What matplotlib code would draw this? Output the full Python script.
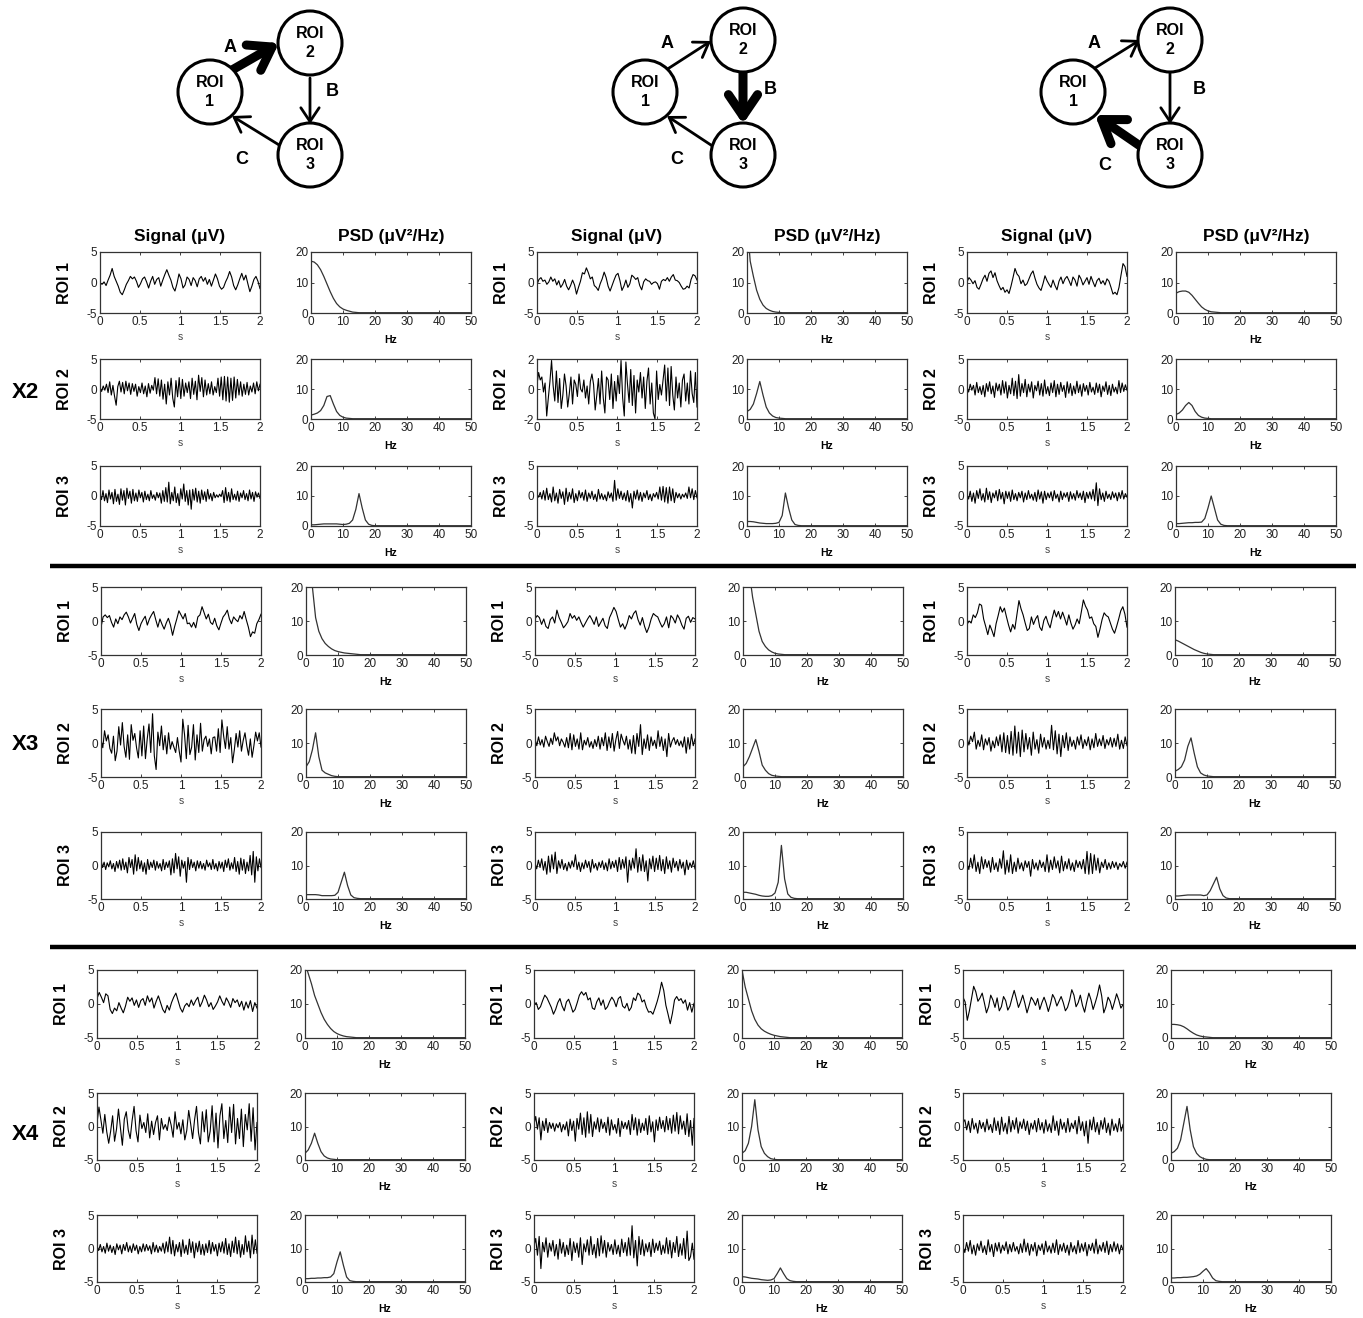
import numpy as np
import matplotlib
matplotlib.use("Agg")
import matplotlib.pyplot as plt
from matplotlib.patches import Circle, FancyArrowPatch

plt.rcParams["font.family"] = ["Liberation Sans", "DejaVu Sans"]
plt.rcParams["axes.unicode_minus"] = False

# ---------------------------------------------------------------------------
# Data: simulated EEG traces (uV, 2 s) and their PSDs (uV^2/Hz) for three
# coupling strengths (X2, X3, X4) and three networks (strong A, B or C link).
# ---------------------------------------------------------------------------
blocks = ["X2", "X3", "X4"]
rois = ["ROI 1", "ROI 2", "ROI 3"]
psd_hz = [0, 1, 2, 3, 4, 5, 6, 7, 8, 9, 10, 11, 12, 13, 14, 15, 16, 17, 18, 19, 20, 50]

# --- X2 --------------------------------------------------------------------
x2a_roi1 = [0, -0.3, 0.1, -0.5, 0.4, 1.2, 2.3, 1.0, 0.2, -0.6, -1.6, -2.0, -1.2, -0.3, 0.3, 1.0, 0.6, 0.9, 0.2, -0.8,
            -0.2, 0.6, 0.9, 0.1, -0.9, 0.2, 1.0, -0.3, 0.5, 0.8, -0.6, 0.4, 1.3, 2.1, 1.2, 0.4, -0.8, -1.4, -0.2, 1.4,
            0.6, -0.9, -0.4, 0.9, 0.5, -0.5, 0.8, 0.3, -0.7, 0.6, 1.0, 0.2, 0.8, -0.3, 0.5, -0.6, 0.4, 1.4, 0.6, -0.6,
            -1.1, -0.8, 0.1, 0.8, 1.8, 0.9, -0.5, -1.2, -0.4, 0.6, 1.5, 0.4, 1.2, -0.2, -1.5, -0.6, 0.5, 1.0, 0.2, -1.0]
x2a_roi2 = [0.3, -0.4, 0.5, -0.2, 0.8, -0.6, 1.2, -1.0, 0.6, -1.2, -2.7, 0.4, 1.3, -0.5, 1.1, -0.8, 1.3, -0.3, 1.0, -0.9,
            0.9, -0.4, 0.8, -1.2, 0.4, -0.6, 1.0, -0.8, 0.5, -1.3, 0.9, -0.7, 0.6, -0.2, 1.9, -0.8, 1.7, -1.2, 1.5, -1.7,
            0.8, -2.5, 1.2, -1.0, 1.8, -1.5, -3.0, 1.4, -1.3, 1.9, -1.6, 1.6, -1.2, 1.0, -0.6, 1.2, -1.6, 1.8, -0.9, 1.3,
            -1.8, 2.3, -0.4, 1.9, -1.3, 1.5, -1.0, 0.9, -0.8, 1.2, -1.0, 0.4, -0.6, 1.8, -1.2, 2.0, -1.8, 2.1, -2.0, 2.0,
            -2.2, 1.8, -1.9, 2.0, -1.5, 1.6, -1.0, 1.2, -1.2, 0.8, -0.9, 1.1, -1.0, 0.5, -0.5, 1.0, -0.8, 1.2, -0.3, 0.8]
x2a_roi3 = [0.2, -0.6, 0.9, -0.8, 0.4, -1.1, 1.0, -0.5, 0.6, -1.3, 1.1, -0.9, 0.3, -1.4, 1.2, -0.7, 0.9, -1.5, 1.3, -0.4,
            0.8, -1.2, 1.1, -0.8, 0.5, -0.9, 1.0, -0.3, 0.6, -1.0, 0.8, -0.6, 0.3, -0.8, 0.9, -0.4, 0.2, -0.7, 0.6, -0.3,
            0.5, -1.2, 0.9, -0.9, 1.4, -1.0, 2.3, -1.3, 0.6, -0.8, 1.5, -1.1, 0.4, -1.6, 1.2, -0.5, 2.0, -0.9, 0.9, -1.5,
            1.0, -2.2, 1.1, -0.7, 1.3, -1.0, 0.8, -1.2, 1.0, -0.6, 0.7, -0.9, 1.1, -0.5, 0.4, -0.8, 0.6, -0.3, 0.2, -0.2,
            0.3, -0.1, 0.9, -1.1, 1.4, -0.8, 0.6, -1.0, 1.2, -0.6, 0.3, -0.7, 0.8, -0.9, 0.5, -0.3, 0.9, -0.6, 0.4, -0.8,
            1.0, -0.5, 0.6, -0.9, 0.7, -0.2, 0.5, -0.4]
x2b_roi1 = [-0.3, 0.5, 0.8, 0.2, 0.4, -0.3, 0.1, 0.9, 0.2, 0.6, -0.4, 0.3, -0.8, -0.3, 0.5, -0.6, -1.2, -0.5, 0.4, -0.4,
            -1.9, -0.8, 0.2, 1.6, 1.4, 2.4, 1.6, 0.6, 0.9, -0.5, -0.8, -1.3, -0.2, 0.6, 1.7, 0.8, -0.6, -1.4, -0.5, 0.4,
            1.2, 1.5, 0.3, -1.3, -0.6, 0.4, -0.8, -0.2, 1.2, 0.9, 0.5, 0.8, -0.5, -1.2, 0.1, 0.6, 0.3, 0.2, -0.3, 0.0,
            0.1, -0.2, -1.1, 0.2, 0.5, 0.3, 0.8, 0.2, 0.9, 1.3, 0.4, 0.3, 0.0, -0.6, -1.1, -1.0, -0.6, -0.9, 0.5, 1.3,
            1.1, 0.4]
x2b_roi2 = [0.3, 1.1, 0.6, 0.8, -0.2, 0.4, -1.8, -0.6, 0.5, 1.9, 0.2, -0.8, 1.2, -0.9, 0.7, -1.3, -0.4, 1.0, 0.2, -1.2,
            -0.3, 0.8, -1.0, 0.6, 0.3, -0.5, 1.0, 0.0, -0.2, 0.6, -0.6, 0.2, -1.0, 0.5, 1.0, 0.3, -1.4, -0.4, 0.7, -1.0,
            1.2, -0.6, -1.6, 0.8, 0.6, -0.7, 1.0, -1.3, 0.5, -0.8, 0.9, -0.3, 1.9, -0.6, -1.8, 1.8, 0.3, -0.9, 1.3, -1.1,
            0.9, -1.6, 0.6, -0.2, 1.1, -0.6, 0.8, -1.3, 0.5, 1.4, -1.0, 0.4, -1.6, -2.0, 1.2, -0.7, 0.3, -0.4, 0.6, 1.6,
            -0.8, 1.4, -1.1, 1.5, -0.4, -1.4, 0.8, -0.6, 0.4, -1.2, 0.6, 1.0, -0.8, 0.4, -1.0, 1.2, -0.3, -0.9, 1.1, -1.2]
x2b_roi3 = [0.3, -0.2, 0.6, -0.5, 0.9, -0.7, 1.3, -0.6, 0.4, -1.0, 1.5, -0.8, 0.5, -1.2, 1.1, -0.4, 0.7, -1.4, 1.3, -0.9,
            0.6, -0.5, 1.2, -1.1, 0.4, -0.8, 0.9, -0.3, 0.6, -0.7, 1.0, -0.9, 0.5, -0.4, 0.8, -0.6, 0.3, -0.9, 1.1, -0.5,
            0.4, -0.6, 0.2, -0.8, 0.7, -0.3, 0.5, -0.9, 2.6, -0.7, 1.2, -0.4, 0.8, -0.6, 0.5, -0.8, 0.9, -1.0, 0.4, -2.0,
            0.8, -0.5, 1.0, -0.7, 0.6, -0.9, 0.5, -0.3, 0.9, -0.6, 0.3, -0.8, 0.4, -0.2, 0.6, -0.5, 1.5, -0.7, 1.6, -1.0,
            1.4, -1.2, 1.5, -0.8, 1.2, -1.1, 0.6, -0.3, 0.4, -0.5, 0.3, -0.2, 0.5, -0.4, 1.5, -0.3, 1.2, -0.6, 0.9, -0.3]
x2c_roi1 = [0.1, 0.8, 0.4, -0.2, 0.3, -0.8, -1.1, -0.3, 0.6, 1.2, 0.2, 1.5, 1.9, 0.8, 1.6, 0.3, -0.5, -1.2, -0.8, -1.6,
            -1.2, -1.8, -0.6, 0.8, 2.3, 1.4, 1.0, -0.2, 0.4, -0.5, -0.2, 0.6, 1.4, 1.9, 0.7, -0.3, -0.9, -1.3, -0.2, 1.1,
            0.3, -0.3, -0.8, 0.4, -0.5, -1.2, 0.2, 0.9, -0.2, 0.6, 1.0, 0.3, -0.5, 0.9, 0.4, -0.6, 1.2, 0.6, -0.4, 0.2,
            0.8, -0.3, 1.0, 0.1, -0.7, 0.3, 0.7, -0.2, 0.3, -0.4, 0.6, 0.2, -0.8, -1.9, -1.6, -2.0, -0.8, 1.2, 3.1, 2.6,
            1.0]
x2c_roi2 = [0.3, -0.5, 0.8, -0.2, 0.6, -1.0, 1.1, -0.6, 0.4, -0.9, 0.6, -1.3, 0.9, -0.4, 1.2, -0.8, 0.5, -1.4, 1.0, -0.3,
            0.8, -1.0, 1.4, -0.7, 1.2, -1.5, 0.6, -0.8, 1.8, -1.1, 1.3, -1.6, 2.4, -1.2, 0.9, -0.6, 1.6, -1.3, 0.8, -0.5,
            1.2, -1.5, 0.6, -0.3, 1.3, -1.0, 0.9, -1.2, 1.5, -0.8, 0.4, -1.1, 1.0, -0.6, 1.4, -1.3, 0.8, -0.9, 1.1, -0.4,
            0.6, -1.4, 1.2, -0.7, 0.9, -1.1, 0.5, -0.8, 1.3, -0.6, 0.7, -1.2, 0.9, -0.4, 0.6, -1.0, 1.1, -0.5, 0.3, -0.9,
            1.0, -0.6, 0.8, -1.3, 0.5, -0.4, 1.2, -0.9, 0.6, -1.1, 0.8, -0.5, 0.3, -0.8, 1.4, -0.6, 1.0, -0.4, 0.7, -0.2]
x2c_roi3 = [0.2, -0.5, 0.8, -0.9, 0.5, -1.2, 0.9, -0.4, 1.2, -0.7, 0.4, -1.0, 1.3, -0.6, 0.7, -1.1, 0.5, -0.3, 0.9, -0.8,
            1.1, -0.5, 0.6, -1.3, 0.8, -0.4, 0.7, -0.9, 1.0, -0.6, 0.4, -0.8, 0.6, -0.3, 0.8, -1.0, 0.5, -0.6, 0.9, -0.4,
            0.3, -0.7, 0.6, -0.9, 1.0, -0.5, 0.7, -1.2, 0.8, -0.6, 0.5, -0.3, 0.7, -0.8, 0.9, -0.4, 0.3, -1.0, 0.8, -0.6,
            0.5, -0.2, 0.6, -0.9, 0.7, -0.5, 0.4, -0.7, 0.9, -0.3, 0.5, -0.6, 0.8, -1.1, 0.6, -0.4, 0.7, -0.5, 1.1, -0.8,
            2.2, -1.6, 1.2, -0.6, 0.5, -0.9, 0.8, -0.4, 0.3, -0.6, 0.7, -0.3, 0.5, -0.8, 0.6, -0.4, 0.9, -0.5, 0.4, -0.2]

x2a_psd1 = [17, 16.7, 15.8, 14.2, 12, 9.5, 7, 4.8, 3.1, 2, 1.3, 0.9, 0.6, 0.3, 0.2, 0.1, 0.1, 0.1, 0.1, 0.1, 0.1, 0.1]
x2a_psd2 = [1.3, 1.6, 2.0, 2.8, 4.5, 7.5, 7.8, 5, 2.5, 1.2, 0.6, 0.3, 0.2, 0.1, 0.1, 0.1, 0.1, 0.1, 0.1, 0.1, 0.1, 0.1]
x2a_psd3 = [0.4, 0.4, 0.5, 0.6, 0.7, 0.7, 0.7, 0.7, 0.7, 0.6, 0.5, 0.6, 0.9, 2, 5.5, 10.8, 6, 2, 0.6, 0.2, 0.1, 0.1]
x2b_psd1 = [30, 17, 12, 7.5, 4.5, 2.6, 1.5, 0.9, 0.5, 0.3, 0.2, 0.1, 0.1, 0.1, 0.1, 0.1, 0.1, 0.1, 0.1, 0.1, 0.1, 0.1]
x2b_psd2 = [2.5, 3.2, 5, 8.5, 12.5, 8, 4, 2, 1, 0.5, 0.3, 0.2, 0.1, 0.1, 0.1, 0.1, 0.1, 0.1, 0.1, 0.1, 0.1, 0.1]
x2b_psd3 = [1.5, 1.5, 1.4, 1.2, 1, 0.9, 0.8, 0.8, 0.8, 0.9, 1.2, 3.5, 11, 6, 2, 0.5, 0.2, 0.1, 0.1, 0.1, 0.1, 0.1]
x2c_psd1 = [6.5, 7, 7.2, 7.2, 6.8, 5.8, 4.5, 3.2, 2, 1.2, 0.7, 0.4, 0.3, 0.2, 0.1, 0.1, 0.1, 0.1, 0.1, 0.1, 0.1, 0.1]
x2c_psd2 = [1.5, 2, 3, 4.5, 5.5, 4.5, 2.5, 1.2, 0.6, 0.3, 0.2, 0.1, 0.1, 0.1, 0.1, 0.1, 0.1, 0.1, 0.1, 0.1, 0.1, 0.1]
x2c_psd3 = [0.8, 0.8, 0.9, 1, 1.1, 1.1, 1.2, 1.2, 1.3, 2.5, 6, 10, 6, 2, 0.6, 0.2, 0.1, 0.1, 0.1, 0.1, 0.1, 0.1]

# --- X3 --------------------------------------------------------------------
x3a_roi1 = [-0.9, 0.6, 0.9, 0.5, 0.8, -0.2, -0.9, 0.3, -0.4, 0.6, 0.2, 0.9, 1.3, 0.6, -0.3, 0.4, 1.1, -0.5, -1.4, -0.4,
            0.2, 0.7, -0.6, 0.3, 0.9, 1.4, 0.2, -0.9, 0.3, -0.5, -1.2, -0.3, 0.4, -0.6, -2.1, -0.8, 0.3, 1.5, 0.9, 0.3,
            1.1, -0.4, -0.3, -0.9, -0.2, -1.0, 0.6, 0.9, 2.1, 1.2, 0.3, 1.0, -0.2, -0.5, 0.4, -0.7, -1.3, -0.3, 0.6, 1.0,
            1.6, 0.3, -0.4, 0.6, 0.2, -0.1, 0.8, 0.3, 1.4, 0.2, -0.9, -2.3, -1.6, -1.8, -0.4, 0.2, 1.0]
x3a_roi2 = [0.5, -0.7, 1.8, 0.3, 1.2, -0.8, -1.5, 1.0, -2.6, -1.2, 2.4, -0.3, 3.0, -0.5, -2.1, 1.2, -2.4, 2.7, 0.4, 1.4,
            -0.7, -2.2, 1.8, -1.9, 2.5, -2.3, 0.6, 2.8, -1.4, 4.3, -1.9, -3.9, 1.6, -0.4, 2.5, -1.0, 1.1, -1.6, 1.5, -0.9,
            0.2, -0.6, -1.4, 0.8, -1.2, -2.8, 3.5, 1.2, -2.3, 2.6, -1.7, -0.6, 2.7, -2.5, 1.2, -1.4, 2.9, -1.2, 0.5, 1.0,
            -0.5, 0.6, -1.6, 0.8, 0.9, -1.2, 2.1, -1.4, 3.4, 1.0, -0.8, 2.4, -0.9, 0.8, -2.9, -1.0, 1.4, -0.6, 1.8, -1.2,
            0.4, 1.5, -0.4, -1.8, 0.6, -2.1, -0.4, 1.6, 0.3, 1.5, -0.6]
x3a_roi3 = [0.8, -0.3, 0.5, -0.6, 0.4, -0.2, 0.7, -0.5, 0.3, -0.9, 0.6, -0.4, 0.8, -0.7, 1.0, -0.6, 0.5, -1.1, 1.2, -0.3,
            0.9, -1.3, 1.6, -0.8, 1.2, -0.5, 0.7, -0.9, 0.4, -1.3, 0.9, -0.6, 0.5, -0.3, 0.8, -0.7, 0.6, -0.4, 0.3, -0.8,
            0.9, -0.6, 0.5, -0.3, 0.7, -1.4, 1.0, -1.1, 1.8, -0.5, 1.3, -1.6, 0.8, -0.4, 0.6, -2.5, 1.2, -0.6, 0.9, -0.3,
            0.5, -0.8, 0.7, -0.4, 0.6, -0.5, 0.3, -0.7, 0.8, -0.2, 0.4, -0.6, 0.9, -0.5, 0.3, -0.8, 0.6, -0.4, 0.5, -0.9,
            0.8, -0.3, 1.0, -0.7, 0.4, -0.5, 1.2, -0.9, 0.6, -1.3, 1.1, -0.7, 0.9, -1.2, 0.5, -0.8, 1.5, -1.4, 2.1, -2.5,
            1.3, -0.8, 1.0, -0.3]
x3b_roi1 = [0.3, 0.8, 0.5, -0.5, 0.3, -0.8, -1.1, 0.2, 0.6, -0.3, 1.6, 0.5, -0.2, -1.0, -0.6, -0.1, 1.1, 0.4, 0.8, 0.1,
            0.6, -0.2, -0.9, -0.3, 0.3, 0.8, 0.2, -0.5, 0.6, -0.8, -0.2, 0.4, -0.7, -1.1, 0.5, 1.2, 2.0, 1.4, 0.2, -0.9,
            -0.4, -1.2, -0.4, 0.8, 0.3, 1.1, 1.5, 0.2, -0.6, 0.5, -0.8, -1.7, -0.9, 0.3, 1.1, 0.8, 0.6, -0.2, -0.9, -0.4,
            0.6, -1.0, 0.8, 0.4, -0.3, 0.9, 0.3, -0.6, -1.2, 0.4, 0.7, -0.2, 0.5, 0.3]
x3b_roi2 = [0.6, -0.4, 0.9, -0.3, 0.5, -0.6, 1.0, 0.2, -0.5, 0.7, -0.2, 1.5, 0.3, 0.9, -0.4, 0.6, 0.1, -0.6, 0.8, -0.7,
            1.4, -1.0, 1.2, -0.5, 0.6, -0.9, 1.5, -1.0, 0.4, -0.3, 0.8, -0.6, 0.2, -0.8, 0.5, -0.5, 1.0, -0.9, 0.8, -0.4,
            1.5, -1.1, 0.9, -0.7, 1.4, -1.2, 0.5, 1.7, -0.8, 1.3, 0.4, -0.3, 1.0, -0.9, 0.5, -1.5, 1.1, -1.6, 1.4, -0.5,
            2.7, -1.7, 0.6, -0.8, 1.2, -1.1, 0.9, -0.4, 0.4, -0.8, 1.8, -0.5, 0.9, -1.1, 0.6, -2.0, 1.4, -0.6, 0.3, 0.8,
            -0.2, 0.5, -0.4, 0.3, -0.6, 0.9, -1.5, 0.8, -0.9, 1.3, -0.4, 0.6]
x3b_roi3 = [0.4, -0.5, 0.8, -0.3, 1.0, -0.7, 0.6, -1.3, 1.4, -1.0, 1.6, -0.5, 2.0, -1.2, 0.7, -0.4, 0.9, -0.6, 0.3, -0.8,
            0.5, -0.4, 0.7, -0.2, 1.6, -0.6, 0.5, -0.9, 0.4, -0.5, 0.8, -0.3, 0.6, -1.0, 0.9, -0.4, 0.3, -0.7, 0.5, -0.3,
            0.7, -0.6, 0.4, -0.8, 1.0, -0.5, 0.6, -0.3, 0.8, -0.9, 1.2, -0.6, 0.9, -0.4, 1.3, -2.5, 0.8, -0.7, 1.1, -0.4,
            2.5, -1.0, 1.2, -0.8, 1.6, -0.9, 0.7, -2.3, 1.0, -0.5, 1.4, -0.9, 1.1, -0.6, 1.5, -0.8, 0.9, -1.2, 1.3, -0.5,
            0.7, -1.0, 1.1, -0.3, 0.6, -0.8, 0.9, -0.4, 0.5, -1.4, 0.8, -0.6, 0.4, -0.3, 0.7, -0.5]
x3c_roi1 = [-0.5, 0.0, -0.3, 0.9, 0.5, 1.2, 2.5, 2.3, 0.3, -0.8, -2.0, -0.6, -1.4, -2.3, -0.4, 0.8, 2.1, 1.3, 1.9, 0.6,
            -0.6, -1.6, -0.5, -1.2, 0.9, 3.0, 1.8, 0.9, -0.3, -1.4, -1.1, 0.6, -0.5, 0.3, 0.8, -0.9, -1.4, 0.1, 0.7, -0.3,
            -1.0, 0.4, 1.6, 0.6, 1.4, 0.3, 1.3, 0.4, -0.6, 0.9, -0.3, -1.2, -0.6, 0.3, -0.4, 1.3, 3.1, 2.2, 1.6, 0.4,
            0.6, -0.4, -0.8, -2.4, -1.2, 0.2, 1.2, 0.8, 0.6, -0.3, -1.2, -1.8, -0.8, 0.3, 1.5, 2.1, 1.0, -0.9]
x3c_roi2 = [0.8, -0.3, 1.0, 0.2, 1.6, -0.9, 0.4, -0.5, 1.2, -1.0, 0.6, -0.3, 0.8, -1.2, 0.3, -0.7, 0.9, -0.4, 1.2, -1.3,
            1.5, -1.4, 1.1, -1.6, 1.7, -1.8, 2.5, -1.5, 1.6, -2.0, 1.9, -1.3, 1.4, -0.9, 0.8, -1.8, 1.6, -0.9, 0.5, -1.5,
            1.3, -0.6, 0.8, -0.9, 0.4, -0.8, 2.6, -1.0, 1.8, -1.6, 1.3, -2.0, 1.1, -0.7, 1.5, -1.1, 0.9, -0.5, 0.4, -0.9,
            0.9, -0.3, 1.2, -0.8, 0.5, -0.4, 0.9, -1.0, 0.6, -0.7, 1.4, -0.5, 0.6, -0.4, 1.1, -0.8, 0.5, -0.3, 0.8, -0.6,
            0.7, -0.5, 1.3, -0.9, 0.4, -0.8, 0.9, -0.4]
x3c_roi3 = [0.3, -0.6, 1.1, -0.4, 1.6, -0.9, 0.5, -1.2, 1.3, -0.5, 0.9, -0.3, 0.7, -1.0, 1.2, -0.6, 0.4, -0.9, 1.0, -0.4,
            2.2, -1.3, 0.8, -1.0, 1.6, -1.2, 0.5, -0.9, 1.1, -0.5, 0.4, -0.8, 0.7, -0.3, 0.6, -1.6, 0.9, -0.5, 0.4, -0.7,
            0.8, -0.3, 0.5, -0.9, 1.6, -1.0, 0.8, -0.6, 1.3, -0.4, 0.7, -1.1, 1.4, -0.8, 0.6, -0.5, 1.0, -0.7, 0.4, -0.9,
            0.8, -0.3, 0.6, -0.5, 0.9, -1.2, 2.1, -1.3, 1.8, -1.2, 1.6, -0.7, 1.1, -1.1, 0.5, -0.3, 0.9, -0.6, 0.4, -0.5,
            0.6, -0.3, 0.5, -0.6, 0.3, -0.2, 0.6, -0.4, 0.5]

x3a_psd1 = [40, 28, 20, 11, 7, 4.8, 3.4, 2.5, 1.8, 1.3, 1, 0.8, 0.6, 0.5, 0.4, 0.3, 0.2, 0.1, 0.1, 0.1, 0.1, 0.1]
x3a_psd2 = [3, 4.5, 8, 13, 6, 2, 1.2, 0.8, 0.4, 0.2, 0.1, 0.1, 0.1, 0.1, 0.1, 0.1, 0.1, 0.1, 0.1, 0.1, 0.1, 0.1]
x3a_psd3 = [1.3, 1.3, 1.3, 1.3, 1.2, 1, 1, 1, 1, 1.1, 2, 5, 8, 4, 1.2, 0.4, 0.2, 0.1, 0.1, 0.1, 0.1, 0.1]
x3b_psd1 = [50, 35, 24, 17, 12, 7, 4, 2.5, 1.5, 0.9, 0.5, 0.3, 0.2, 0.1, 0.1, 0.1, 0.1, 0.1, 0.1, 0.1, 0.1, 0.1]
x3b_psd2 = [3, 4, 6, 8.5, 11, 7.5, 3.5, 2, 1, 0.5, 0.3, 0.2, 0.1, 0.1, 0.1, 0.1, 0.1, 0.1, 0.1, 0.1, 0.1, 0.1]
x3b_psd3 = [2, 2, 1.8, 1.6, 1.4, 1.1, 0.9, 0.8, 0.8, 1, 1.8, 5, 16, 6, 1.5, 0.5, 0.2, 0.1, 0.1, 0.1, 0.1, 0.1]
x3c_psd1 = [4.5, 4.1, 3.6, 3.1, 2.6, 2.1, 1.6, 1.2, 0.8, 0.5, 0.3, 0.2, 0.1, 0.1, 0.1, 0.1, 0.1, 0.1, 0.1, 0.1, 0.1, 0.1]
x3c_psd2 = [1.7, 2.2, 3, 5, 9, 11.5, 7, 3, 1.2, 0.6, 0.3, 0.2, 0.1, 0.1, 0.1, 0.1, 0.1, 0.1, 0.1, 0.1, 0.1, 0.1]
x3c_psd3 = [0.9, 0.9, 1, 1.1, 1.2, 1.2, 1.2, 1.2, 1.2, 1, 1.2, 2.5, 4.5, 6.5, 3, 1, 0.3, 0.1, 0.1, 0.1, 0.1, 0.1]

# --- X4 --------------------------------------------------------------------
x4a_roi1 = [0.8, 1.7, 1.0, 0.2, 1.5, 1.2, -0.8, -1.4, -0.6, -1.0, 0.2, -0.6, -1.3, -0.3, 1.0, 0.4, 0.9, -0.2, 0.6, -0.5,
            0.5, 0.8, -0.2, 1.2, 0.3, 0.9, -0.6, 0.4, 1.2, 0.2, -0.8, -1.3, -0.2, -0.9, 0.2, 1.0, 1.6, 0.5, -0.6, -1.2,
            -0.3, 0.1, -0.4, 0.6, -0.2, 0.5, 1.0, -0.4, 0.3, 1.3, 0.6, -0.4, 0.2, -0.8, -0.3, 0.3, 1.2, 0.4, -0.2, 0.9,
            0.3, -0.5, 0.8, 0.2, 0.6, -0.4, 0.4, -0.9, 0.3, -0.6, 0.5, -1.1, 0.2, -0.6]
x4a_roi2 = [0.5, 2.9, 1.0, -1.0, 1.8, -0.8, -2.5, -0.7, 1.6, -2.2, -0.4, 2.6, -0.2, -2.8, 1.1, 2.2, -0.5, -1.8, 0.9, 3.0,
            -0.6, -2.3, 1.7, -0.3, 0.6, -0.9, 1.9, -1.7, 0.8, -1.2, 0.6, 1.6, -2.0, 1.2, -0.4, 0.3, -0.6, 1.4, 0.2, -1.6,
            2.2, -0.4, 0.6, -1.1, 1.0, -2.0, -0.6, 2.4, 0.4, -1.8, 1.0, 3.0, -0.9, -2.6, 2.2, -0.8, 2.5, -2.3, -0.7, 3.1,
            -2.3, 2.0, -3.2, 1.6, 3.4, -1.8, 0.9, -2.4, 2.9, -0.9, 3.3, -2.6, 1.2, -1.8, 2.6, -3.0, 1.8, -0.5, 3.4, -2.2,
            2.8, -3.5, 0.6]
x4a_roi3 = [0.4, -0.3, 0.6, -0.5, 0.3, -0.7, 0.8, -0.4, 0.5, -0.6, 0.3, -0.9, 0.7, -0.2, 0.5, -0.8, 0.6, -0.3, 0.9, -0.5,
            0.4, -0.6, 0.7, -0.3, 0.5, -0.8, 0.3, -0.5, 0.7, -0.4, 0.6, -0.3, 0.4, -0.8, 0.9, -0.5, 0.5, -0.6, 0.3, -0.4,
            0.8, -0.7, 1.0, -0.5, 1.7, -0.8, 1.2, -1.1, 0.6, -0.5, 0.9, -1.2, 1.3, -0.7, 0.5, -0.9, 1.4, -0.6, 1.0, -1.4,
            0.8, -0.5, 1.1, -0.9, 0.6, -1.0, 0.7, -0.6, 1.2, -0.8, 0.9, -0.4, 0.6, -1.1, 0.8, -0.5, 1.0, -0.7, 1.5, -0.9,
            0.7, -1.2, 1.1, -0.6, 1.7, -0.8, 1.2, -1.3, 0.6, -0.9, 1.9, -0.5, 1.1, -1.4, 2.0, -0.8, 1.3, -0.7]
x4b_roi1 = [-0.2, 0.2, -0.8, -0.4, 0.5, 1.3, 0.9, 0.2, -0.5, -1.5, -0.8, 0.2, 0.8, -0.3, -1.0, 0.3, 0.7, -0.2, -1.2, -0.8,
            0.2, 1.3, 1.8, 1.3, 1.7, 0.6, 0.9, -0.6, -0.8, 0.3, 0.9, -0.2, 0.6, -0.8, -0.4, 0.4, 1.0, 0.5, -0.4, 0.8,
            1.1, -0.3, -0.6, 0.1, -1.0, -0.5, 0.9, 0.5, 1.6, 1.3, 0.3, 0.6, -0.5, -1.2, -1.1, -1.5, -0.6, 0.4, 1.6, 3.2,
            2.0, -0.2, -1.5, -2.9, -1.4, 0.6, 1.1, 0.5, 0.8, 0.1, 0.6, -0.9, 0.2, -1.2, 0.1]
x4b_roi2 = [0.3, 1.5, -0.4, 1.3, -2.0, 0.8, -0.6, 1.2, -0.9, 0.6, -0.3, 0.5, -0.7, 0.4, -0.2, 0.6, -0.8, 0.3, -0.5, 0.7,
            -1.4, 1.1, -0.6, 0.8, -2.2, 1.2, -0.4, 2.0, -1.2, 1.3, -1.6, 2.2, -1.0, 1.8, -1.5, 0.7, -0.4, 1.3, -0.8, 1.1,
            -0.3, 0.6, -0.9, 1.4, -1.3, 1.0, -0.5, 0.3, -1.0, 1.2, -1.5, 0.8, -0.3, 0.6, -0.4, 0.9, -1.2, 1.8, -0.5, 1.3,
            -1.3, 1.1, -0.9, 0.5, -0.6, 1.2, -1.2, 1.6, -0.8, 0.7, -2.3, 1.0, -0.6, 1.4, -0.3, 0.9, -0.8, 1.5, -0.5, 1.2,
            -1.0, 1.7, -0.7, 2.1, -1.1, 1.6, -0.4, 0.8, -1.2, 1.9, -1.5, 0.9, -2.8, 1.2]
x4b_roi3 = [0.4, 1.5, -1.0, 1.8, -3.0, 0.9, -0.5, 1.6, -1.3, 0.8, -0.4, 1.2, -1.1, 0.6, -1.6, 1.4, -0.7, 0.9, -1.2, 0.5,
            -0.9, 1.5, -1.8, 1.0, -0.6, 0.8, -1.3, 1.6, -2.4, 0.7, -0.5, 1.3, -1.0, 1.8, -0.9, 0.6, -1.4, 1.5, -1.1, 1.9,
            -0.7, 1.2, -1.3, 0.9, -0.4, 0.6, -0.9, 1.3, -0.8, 0.5, -1.2, 1.4, -0.6, 0.9, -1.1, 1.6, -1.0, 3.4, -1.4, 1.2,
            -2.6, 1.8, -0.9, 1.3, -1.1, 0.7, -0.5, 0.9, -1.2, 1.4, -0.6, 0.8, -0.3, 1.1, -0.9, 0.5, -0.7, 1.6, -0.8, 1.2,
            -1.4, 0.9, -0.6, 1.8, -1.2, 0.7, -1.0, 1.5, -1.5, 2.6, -1.8, -1.2, 0.8, -1.6]
x4c_roi1 = [1.0, 0.3, -2.4, -1.0, 0.8, 2.6, 1.8, 0.4, 0.9, 1.6, 0.2, -1.3, -0.4, 1.3, 0.6, -0.5, 0.9, -1.0, -0.4, 1.1,
            0.5, -0.9, -0.3, 0.9, 2.0, 0.8, -0.5, 0.3, 1.3, 0.1, -1.3, -0.2, 1.0, 0.5, -0.2, 0.8, -0.8, 0.2, 1.0, 0.1,
            -1.1, 0.0, 1.4, 0.8, -0.3, 0.4, 1.1, 0.2, -1.0, -0.5, 0.6, 2.1, 1.3, -0.4, 0.2, 1.3, -0.2, -1.2, 0.3, 1.6,
            0.6, -0.8, 0.2, 1.3, 2.8, 1.2, -1.3, -0.4, 1.0, 0.4, -0.8, 0.3, 1.5, 0.6, -0.6, -0.1]
x4c_roi2 = [0.6, 1.0, -0.5, 0.8, -0.9, 1.2, -0.4, 0.5, -1.0, 0.9, -0.3, 0.6, -0.8, 1.1, -0.5, 0.3, -0.9, 1.3, -0.6, 0.8,
            -1.2, 1.4, -0.7, 0.5, -1.1, 1.5, -0.8, 0.9, -0.4, 1.3, -1.0, 0.7, -0.3, 1.1, -0.6, 0.8, -1.2, 0.5, -0.4, 0.9,
            -0.8, 1.2, -0.5, 0.6, -1.0, 1.0, -0.7, 0.4, -0.9, 1.6, -0.6, 0.8, -1.3, 1.1, -0.4, 0.6, -0.9, 1.2, -0.8, 0.5,
            -0.3, 0.9, -1.1, 1.5, -0.6, 0.7, -1.4, 0.8, -2.5, 1.0, -0.5, 1.4, -0.8, 0.6, -1.2, 0.9, -0.4, 1.3, -0.9, 0.5,
            -1.3, 1.1, -0.6, 0.4, -0.8, 1.2, -0.7, 0.3]
x4c_roi3 = [0.3, -0.6, 0.9, -0.4, 1.2, -0.8, 0.5, -1.0, 0.7, -0.3, 1.1, -0.6, 0.4, -0.9, 1.3, -0.5, 0.6, -1.2, 0.8, -0.4,
            0.9, -0.7, 0.5, -0.3, 1.0, -0.8, 0.6, -0.5, 0.9, -0.4, 0.3, -0.8, 0.7, -0.6, 1.4, -0.5, 0.8, -1.0, 0.6, -0.4,
            0.9, -1.1, 0.5, -0.3, 0.7, -0.9, 1.1, -0.5, 0.4, -0.7, 0.8, -0.6, 1.3, -0.9, 0.6, -0.4, 0.8, -0.6, 0.5, -1.0,
            0.9, -0.5, 0.4, -0.8, 1.2, -0.6, 0.7, -0.4, 0.9, -1.1, 0.6, -0.3, 0.8, -0.7, 1.4, -0.8, 0.5, -0.4, 0.9, -0.6,
            1.1, -0.9, 0.6, -0.5, 1.0, -0.4, 0.7, -0.8, 0.5, -0.2]

x4a_psd1 = [22, 19, 16, 12.5, 10, 7.5, 5.5, 4, 2.8, 1.9, 1.3, 0.9, 0.6, 0.4, 0.3, 0.2, 0.1, 0.1, 0.1, 0.1, 0.1, 0.1]
x4a_psd2 = [2, 3, 5, 8, 5, 2.5, 1.2, 0.6, 0.3, 0.2, 0.1, 0.1, 0.1, 0.1, 0.1, 0.1, 0.1, 0.1, 0.1, 0.1, 0.1, 0.1]
x4a_psd3 = [1, 1, 1.1, 1.1, 1.2, 1.2, 1.3, 1.3, 1.5, 2.5, 6, 9, 5, 1.5, 0.4, 0.2, 0.1, 0.1, 0.1, 0.1, 0.1, 0.1]
x4b_psd1 = [20, 15, 11.5, 8, 5.5, 3.8, 2.7, 2, 1.5, 1.1, 0.8, 0.6, 0.4, 0.3, 0.2, 0.1, 0.1, 0.1, 0.1, 0.1, 0.1, 0.1]
x4b_psd2 = [2, 2.8, 5, 10, 18, 9, 4, 2, 1, 0.4, 0.2, 0.1, 0.1, 0.1, 0.1, 0.1, 0.1, 0.1, 0.1, 0.1, 0.1, 0.1]
x4b_psd3 = [1.6, 1.5, 1.3, 1.1, 1, 0.9, 0.7, 0.6, 0.5, 0.6, 1, 2.5, 4.2, 2.5, 1, 0.4, 0.2, 0.1, 0.1, 0.1, 0.1, 0.1]
x4c_psd1 = [4, 4, 3.9, 3.7, 3.3, 2.7, 2, 1.4, 0.9, 0.6, 0.4, 0.3, 0.2, 0.1, 0.1, 0.1, 0.1, 0.1, 0.1, 0.1, 0.1, 0.1]
x4c_psd2 = [2, 2.5, 3.5, 6, 11, 16, 9, 4, 2, 1, 0.5, 0.2, 0.1, 0.1, 0.1, 0.1, 0.1, 0.1, 0.1, 0.1, 0.1, 0.1]
x4c_psd3 = [1.2, 1.2, 1.3, 1.3, 1.4, 1.4, 1.5, 1.6, 1.8, 2.3, 3.2, 4, 2.8, 1.2, 0.4, 0.2, 0.1, 0.1, 0.1, 0.1, 0.1, 0.1]

signals = {
    "X2": [[x2a_roi1, x2a_roi2, x2a_roi3], [x2b_roi1, x2b_roi2, x2b_roi3], [x2c_roi1, x2c_roi2, x2c_roi3]],
    "X3": [[x3a_roi1, x3a_roi2, x3a_roi3], [x3b_roi1, x3b_roi2, x3b_roi3], [x3c_roi1, x3c_roi2, x3c_roi3]],
    "X4": [[x4a_roi1, x4a_roi2, x4a_roi3], [x4b_roi1, x4b_roi2, x4b_roi3], [x4c_roi1, x4c_roi2, x4c_roi3]],
}
spectra = {
    "X2": [[x2a_psd1, x2a_psd2, x2a_psd3], [x2b_psd1, x2b_psd2, x2b_psd3], [x2c_psd1, x2c_psd2, x2c_psd3]],
    "X3": [[x3a_psd1, x3a_psd2, x3a_psd3], [x3b_psd1, x3b_psd2, x3b_psd3], [x3c_psd1, x3c_psd2, x3c_psd3]],
    "X4": [[x4a_psd1, x4a_psd2, x4a_psd3], [x4b_psd1, x4b_psd2, x4b_psd3], [x4c_psd1, x4c_psd2, x4c_psd3]],
}
# the ROI 2 trace of the strong-B network at X2 uses a +/-2 uV axis
signal_ylim = {("X2", 1, 1): 2}

# ---------------------------------------------------------------------------
# Layout (pixels)
# ---------------------------------------------------------------------------
W, H = 1363, 1318
row_y = {
    "X2": [(252, 313), (359, 419), (466, 526)],
    "X3": [(587, 655), (709, 777), (832, 899)],
    "X4": [(970, 1038), (1093, 1160), (1215, 1282)],
}
col_x = {
    "X2": [(100, 311), (537, 747), (967, 1176)],
    "X3": [(101, 306), (535, 743), (967, 1175)],
    "X4": [(97, 305), (534, 742), (963, 1171)],
}
block_label_y = {"X2": 392, "X3": 745, "X4": 1135}
panel_w = 160

fig = plt.figure(figsize=(W / 100, H / 100), dpi=100)
overlay = fig.add_axes([0, 0, 1, 1])
overlay.set_xlim(0, W)
overlay.set_ylim(H, 0)
overlay.axis("off")


def px_axes(x0, y0, x1, y1):
    return fig.add_axes([x0 / W, 1 - y1 / H, (x1 - x0) / W, (y1 - y0) / H])


def matlab_style(ax):
    ax.tick_params(direction="in", top=True, right=True, length=2.5, width=0.6,
                   labelsize=8.5, pad=2, colors="#222")
    for sp in ax.spines.values():
        sp.set_color("#333")
        sp.set_linewidth(0.9)


for block in blocks:
    for c in range(3):
        sx, px = col_x[block][c]
        for r in range(3):
            y0, y1 = row_y[block][r]
            # time-domain trace
            ax = px_axes(sx, y0, sx + panel_w, y1)
            vals = signals[block][c][r]
            t = np.linspace(0, 2, len(vals))
            ax.plot(t, vals, color="k", lw=0.8)
            lim = signal_ylim.get((block, c, r), 5)
            ax.set_xlim(0, 2)
            ax.set_ylim(-lim, lim)
            ax.set_xticks([0, 0.5, 1, 1.5, 2])
            ax.set_xticklabels(["0", "0.5", "1", "1.5", "2"])
            ax.set_yticks([-lim, 0, lim])
            ax.set_xlabel("s", fontsize=7.5, color="#444", labelpad=3)
            ax.set_ylabel(rois[r], fontsize=11.5, fontweight="bold")
            ax.yaxis.set_label_coords(-0.175, 0.5)
            matlab_style(ax)

            # power spectral density
            ax = px_axes(px, y0, px + panel_w, y1)
            ax.plot(psd_hz, spectra[block][c][r], color="#333", lw=0.9)
            ax.set_xlim(0, 50)
            ax.set_ylim(0, 20)
            ax.set_xticks([0, 10, 20, 30, 40, 50])
            ax.set_yticks([0, 10, 20])
            ax.set_xlabel("Hz", fontsize=7.5, fontweight="bold", labelpad=5)
            matlab_style(ax)

    overlay.text(25, block_label_y[block], block, fontsize=16, fontweight="bold",
                 ha="center", va="center")

# column headers for the first block
for sx, px in col_x["X2"]:
    overlay.text(sx + panel_w / 2, 236, "Signal (μV)", fontsize=12.5, fontweight="bold",
                 ha="center", va="center")
    overlay.text(px + panel_w / 2, 236, "PSD (μV²/Hz)", fontsize=12.5, fontweight="bold",
                 ha="center", va="center")

# separators between coupling blocks
for y in (566, 947):
    overlay.plot([50, 1356], [y, y], color="k", lw=3.2, solid_capstyle="butt")

# ---------------------------------------------------------------------------
# Network diagrams
# ---------------------------------------------------------------------------
nodes = [
    {1: (210, 92), 2: (310, 43), 3: (310, 155)},
    {1: (645, 92), 2: (743, 40), 3: (743, 155)},
    {1: (1073, 92), 2: (1170, 40), 3: (1170, 155)},
]
arrows = [
    {"A": ((232, 70), (279, 43)), "B": ((310, 78), (310, 124)), "C": ((284, 148), (232, 116))},
    {"A": ((666, 70), (711, 41)), "B": ((743, 73), (743, 124)), "C": ((717, 149), (667, 116))},
    {"A": ((1095, 68), (1140, 40)), "B": ((1170, 73), (1170, 124)), "C": ((1146, 150), (1095, 115))},
]
link_labels = [
    {"A": (230, 47), "B": (332, 92), "C": (242, 160)},
    {"A": (667, 44), "B": (770, 90), "C": (677, 160)},
    {"A": (1094, 44), "B": (1199, 90), "C": (1105, 165)},
]
strong_link = ["A", "B", "C"]

for k in range(3):
    for n, (cx, cy) in nodes[k].items():
        overlay.add_patch(Circle((cx, cy), 32, facecolor="white", edgecolor="k", lw=2.2, zorder=3))
        overlay.text(cx, cy, f"ROI\n{n}", fontsize=11.5, fontweight="bold", ha="center",
                     va="center", linespacing=1.35, zorder=4)
    for name, (a, b) in arrows[k].items():
        if name == strong_link[k]:
            style = "->,head_length=1.1,head_width=0.75"
            lw, ms = 6.5, 14
        else:
            style = "->,head_length=0.9,head_width=0.6"
            lw, ms = 2.0, 11
        overlay.add_patch(FancyArrowPatch(a, b, arrowstyle=style, mutation_scale=ms, lw=lw,
                                          color="k", shrinkA=0, shrinkB=0, zorder=2))
        lx, ly = link_labels[k][name]
        overlay.text(lx, ly, name, fontsize=13, fontweight="bold", ha="center", va="center")

fig.savefig("out.png", dpi=100)
